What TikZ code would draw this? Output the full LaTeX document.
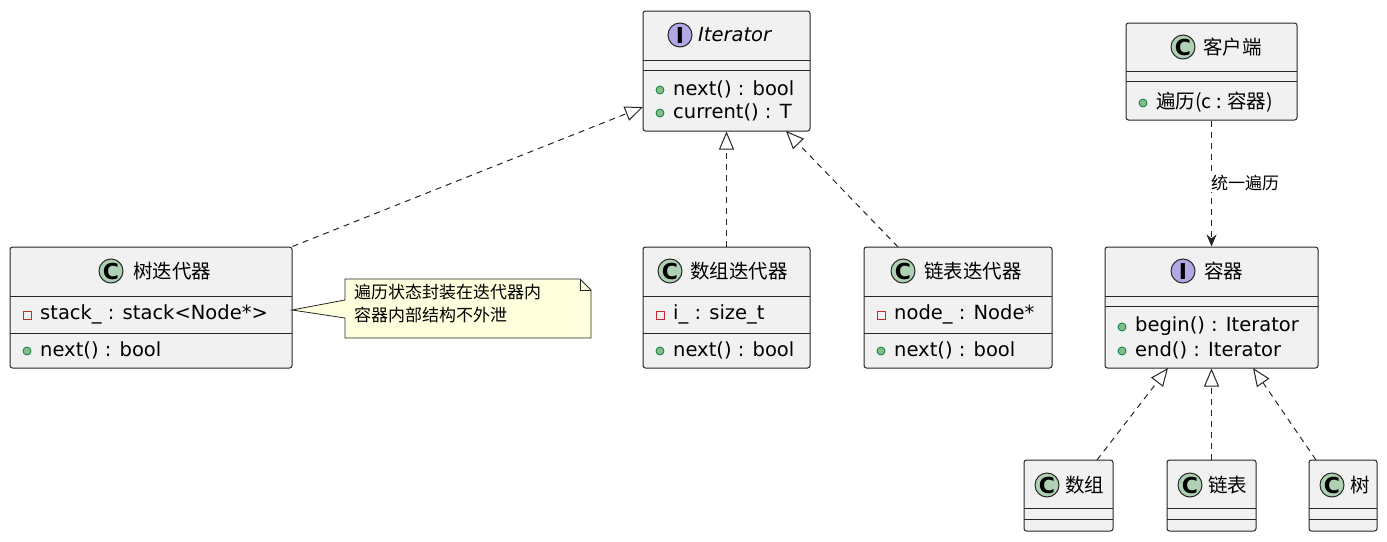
\documentclass[tikz,border=0pt]{standalone}
\usepackage{fontspec}
\setmainfont{DejaVu Sans}
\newfontfamily\cjk{Noto Sans CJK SC}
\usetikzlibrary{arrows.meta}
\definecolor{boxbg}{HTML}{F1F1F1}
\definecolor{cgreen}{HTML}{ADD1B2}
\definecolor{ipurple}{HTML}{B4A7E5}
\definecolor{notebg}{HTML}{FEFFDD}
\definecolor{pubg}{HTML}{84BE84}
\definecolor{pubd}{HTML}{038048}
\definecolor{privr}{HTML}{C82930}
\tikzset{
 box/.style={draw=black!85,fill=boxbg,rounded corners=2.5pt,line width=1pt,inner sep=0pt},
 sep/.style={draw=black!85,line width=1pt},
 icon/.style={circle,draw=black!85,line width=1pt,minimum size=24pt,inner sep=0pt,font=\fontsize{22}{22}\selectfont\bfseries},
 txt/.style={anchor=west,inner sep=0pt,font=\fontsize{19.5}{24}\selectfont},
 pub/.style={circle,fill=pubg,draw=pubd,line width=0.8pt,minimum size=8pt,inner sep=0pt},
 priv/.style={rectangle,draw=privr,line width=1pt,minimum size=8pt,inner sep=0pt},
 real/.style={draw=black!85,line width=1pt,dash pattern=on 6pt off 5pt,-{Triangle[open,length=18pt,width=15pt]}},
 dep/.style={draw=black!85,line width=1pt,dash pattern=on 6pt off 5pt,-{Stealth[length=12pt,width=10pt]}},
}
\newcommand\mybox[5]{\node[box,minimum width={#4pt-#2pt},minimum height={#5pt-#3pt}] (#1) at ({(#2+#4)/2},{(#3+#5)/2}) {};}
\newcommand\hsep[3]{\draw[sep] (#1,#3) -- (#2,#3);}
\begin{document}
\begin{tikzpicture}[x=1pt,y=-1pt]
\useasboundingbox (0,0) rectangle (1387,541);
% Iterator
\mybox{it}{643}{11}{810}{131}
\node[icon,fill=ipurple] (itic) at (680,35) {I};
\node[txt,font=\fontsize{19.5}{24}\selectfont\itshape] (itn) at (698,35) {Iterator};
\hsep{643}{810}{60}\hsep{643}{810}{70}
\node[pub] (itp1) at (660,90) {}; \node[txt] (itm1) at (673,89) {next() : bool};
\node[pub] (itp2) at (660,113) {}; \node[txt] (itm2) at (673,112) {current() : T};
% client
\mybox{cl}{1126}{23}{1297}{120}
\node[icon,fill=cgreen] (clic) at (1183,47) {C};
\node[txt] (cln) at (1203,47) {\cjk 客户端};
\hsep{1126}{1297}{71}\hsep{1126}{1297}{81}
\node[pub] (clp) at (1143,103) {}; \node[txt] (clm) at (1156,102) {\cjk 遍历(c : 容器)};
% tree iterator
\mybox{ti}{10}{247}{292}{368}
\node[icon,fill=cgreen] (tiic) at (111,271) {C};
\node[txt] (tin) at (133,271) {\cjk 树迭代器};
\hsep{10}{292}{296}\hsep{10}{292}{333}
\node[priv] (tia) at (27,315) {}; \node[txt] (tiat) at (40,314) {stack\_ : stack<Node*>};
\node[pub] (tip) at (27,351) {}; \node[txt] (tim) at (40,350) {next() : bool};
% array iterator
\mybox{ai}{643}{247}{810}{368}
\node[icon,fill=cgreen] (aiic) at (670,271) {C};
\node[txt] (ain) at (690,271) {\cjk 数组迭代器};
\hsep{643}{810}{296}\hsep{643}{810}{333}
\node[priv] (aia) at (660,315) {}; \node[txt] (aiat) at (673,314) {i\_ : size\_t};
\node[pub] (aip) at (660,351) {}; \node[txt] (aim) at (673,350) {next() : bool};
% list iterator
\mybox{li}{864}{247}{1052}{368}
\node[icon,fill=cgreen] (liic) at (903,271) {C};
\node[txt] (lin) at (924,271) {\cjk 链表迭代器};
\hsep{864}{1052}{296}\hsep{864}{1052}{333}
\node[priv] (lia) at (881,315) {}; \node[txt] (liat) at (894,314) {node\_ : Node*};
\node[pub] (lip) at (881,351) {}; \node[txt] (lim) at (894,350) {next() : bool};
% container
\mybox{co}{1105}{247}{1318}{368}
\node[icon,fill=ipurple] (coic) at (1183,271) {I};
\node[txt,font=\fontsize{19.5}{24}\selectfont\cjk\itshape] (con) at (1204,271) {容器};
\hsep{1105}{1318}{296}\hsep{1105}{1318}{306}
\node[pub] (cop1) at (1122,327) {}; \node[txt] (com1) at (1135,326) {begin() : Iterator};
\node[pub] (cop2) at (1122,351) {}; \node[txt] (com2) at (1135,350) {end() : Iterator};
% leaves
\mybox{ar}{1024}{460}{1113}{531}
\node[icon,fill=cgreen] (aric) at (1047,485) {C}; \node[txt] (arn) at (1065,485) {\cjk 数组};
\hsep{1024}{1113}{508}\hsep{1024}{1113}{519}
\mybox{ls}{1167}{460}{1256}{531}
\node[icon,fill=cgreen] (lsic) at (1190,485) {C}; \node[txt] (lsn) at (1208,485) {\cjk 链表};
\hsep{1167}{1256}{508}\hsep{1167}{1256}{519}
\mybox{tr}{1309}{460}{1377}{531}
\node[icon,fill=cgreen] (tric) at (1332,485) {C}; \node[txt] (trn) at (1350,485) {\cjk 树};
\hsep{1309}{1377}{508}\hsep{1309}{1377}{519}
% note
\coordinate (nA) at (292,310);
\draw[draw=black!85,fill=notebg,line width=0.8pt] (345,279) -- (580,279) -- (591,290) -- (591,338) -- (345,338) -- (345,318) -- (nA) -- (345,300) -- cycle;
\draw[draw=black!85,line width=0.8pt] (580,279) -- (580,290) -- (591,290);
\node[txt,align=left,anchor=north west,font=\fontsize{17}{23}\selectfont\cjk] (note) at (354,284) {遍历状态封装在迭代器内\\容器内部结构不外泄};
% connectors
\draw[real] (ti.north east) -- (643,107);
\draw[real] (ai.north) -- (it.south);
\draw[real] (898,247) -- (786,131);
\draw[dep] (cl.south) -- node[fill=white,inner sep=1pt,anchor=west,xshift=-2pt,font=\fontsize{17}{20}\selectfont\cjk] {统一遍历} (co.north);
\draw[real] (1097,460) -- (1168,368);
\draw[real] (ls.north) -- (co.south -| ls.north);
\draw[real] (1316,460) -- (1253,368);
\end{tikzpicture}
\end{document}
